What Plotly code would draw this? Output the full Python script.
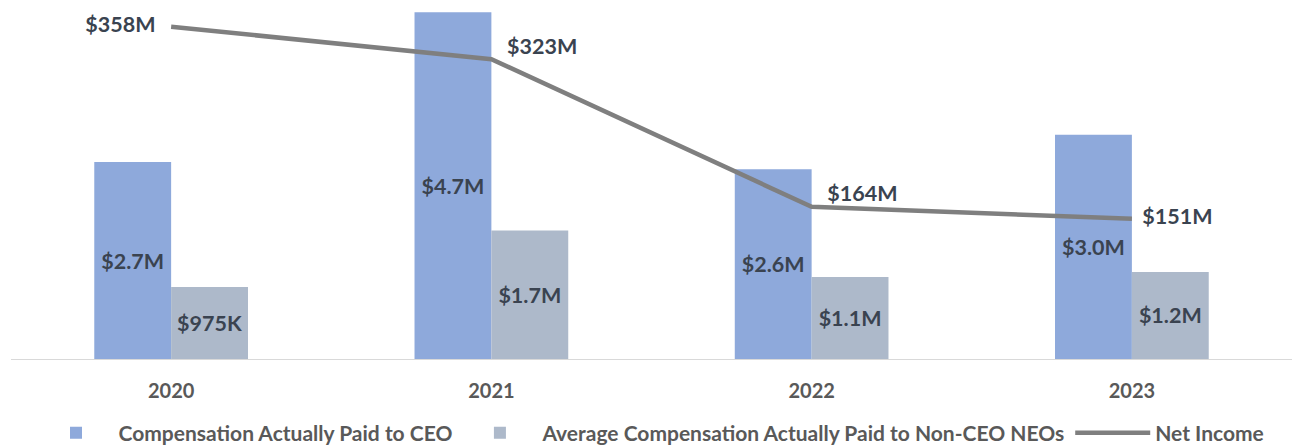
import plotly.graph_objects as go

years = ["2020", "2021", "2022", "2023"]
ceo_comp = [2.67, 4.70, 2.57, 3.04]          # $M
neo_comp = [0.975, 1.74, 1.11, 1.18]         # $M
net_income = [358, 323, 164, 151]            # $M
ceo_labels = ["$2.7M", "$4.7M", "$2.6M", "$3.0M"]
neo_labels = ["$975K", "$1.7M", "$1.1M", "$1.2M"]
ni_labels = ["$358M", "$323M", "$164M", "$151M"]

FONT = "Lato, sans-serif"
LABEL_COLOR = "#3A4350"
GRAY_TEXT = "#595959"
NB = "\u00a0"

fig = go.Figure()
fig.add_trace(go.Bar(
    x=years, y=ceo_comp, name="Compensation Actually Paid to CEO",
    marker=dict(color="#8EA9DB", line=dict(width=0)),
    text=ceo_labels, textposition="inside", insidetextanchor="middle",
    textangle=0, constraintext="none",
    textfont=dict(family=FONT, size=21.5, color=LABEL_COLOR, weight="bold"),
    hoverinfo="skip",
))
fig.add_trace(go.Bar(
    x=years, y=neo_comp, name="Average Compensation Actually Paid to Non-CEO NEOs",
    marker=dict(color="#ADB9CA", line=dict(width=0)),
    text=neo_labels, textposition="inside", insidetextanchor="middle",
    textangle=0, constraintext="none",
    textfont=dict(family=FONT, size=21.5, color=LABEL_COLOR, weight="bold"),
    hoverinfo="skip",
))
fig.add_trace(go.Scatter(
    x=years, y=net_income, name="Net Income", yaxis="y2",
    mode="lines+text", line=dict(color="#7F7F7F", width=4.5),
    text=ni_labels,
    texttemplate=["%{text}" + NB * 3, NB * 3 + "%{text}",
                  NB * 3 + "%{text}", NB * 2 + "%{text}"],
    textposition=["middle left", "top right", "top right", "middle right"],
    textfont=dict(family=FONT, size=21.5, color=LABEL_COLOR, weight="bold"),
    cliponaxis=False, hoverinfo="skip",
))

fig.update_layout(
    width=1292, height=446,
    margin=dict(l=11, r=0, t=10, b=87, autoexpand=False),
    paper_bgcolor="white", plot_bgcolor="white",
    barmode="group", bargap=0.52, bargroupgap=0,
    font=dict(family=FONT, color=GRAY_TEXT),
    xaxis=dict(
        type="category", range=[-0.5, 3.5], automargin=False,
        showline=True, linecolor="#D9D9D9", linewidth=1,
        showgrid=False, zeroline=False,
        ticks="outside", ticklen=14, tickcolor="rgba(0,0,0,0)",
        tickfont=dict(family=FONT, size=20, color=GRAY_TEXT, weight="bold"),
    ),
    yaxis=dict(range=[0, 4.73], visible=False, showgrid=False, zeroline=False),
    yaxis2=dict(range=[0, 376], overlaying="y", side="right", visible=False,
                showgrid=False, zeroline=False),
    legend=dict(
        orientation="h", x=0.5, xanchor="center", y=-0.212, yanchor="middle",
        font=dict(family=FONT, size=21, color=GRAY_TEXT, weight="bold"),
        itemwidth=75, traceorder="normal",
    ),
    showlegend=True,
)

fig.write_html(
    "out.html",
    config={"displayModeBar": False},
    post_script="document.body.style.margin='0';document.body.style.overflow='hidden';",
)
